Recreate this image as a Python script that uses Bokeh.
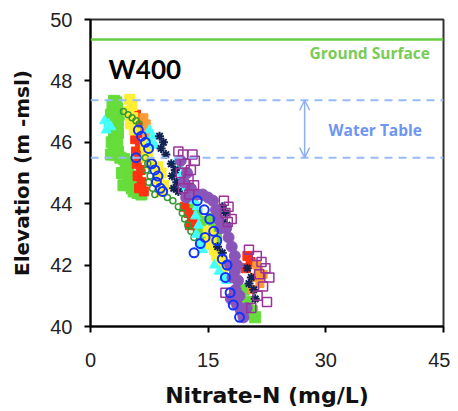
from bokeh.plotting import figure
from bokeh.models import Span, Label, Arrow, OpenHead, FixedTicker, Range1d
from bokeh.embed import file_html
from bokeh.resources import INLINE

# ---------------- data ----------------
x_ticks = [0, 15, 30, 45]
y_ticks = [40, 42, 44, 46, 48, 50]
ground_surface = 49.35
water_table_top = 47.37
water_table_bottom = 45.5

green_x = [3.0, 3.3, 2.8, 3.4, 3.0, 3.6, 3.1, 3.5, 3.0, 3.4, 3.1, 3.5, 3.0, 3.3, 3.1, 3.4, 3.0, 3.5, 3.2, 3.8,
           4.3, 4.6, 4.5, 4.8, 4.7, 5.0, 4.8, 5.1, 5.0, 5.3, 5.5, 6.0, 6.5, 2.6, 2.5, 2.7, 2.6, 4.0, 4.2,
           13.0, 13.5, 13.3, 14.0, 13.8, 14.3, 15.5, 15.8, 16.0, 15.6,
           19.5, 20.0, 20.6, 21.0, 20.3]
green_y = [47.35, 47.3, 47.2, 47.1, 47.0, 46.9, 46.8, 46.7, 46.6, 46.5, 46.4, 46.3, 46.2, 46.1, 46.0, 45.9, 45.8, 45.7, 45.6, 45.5,
           45.45, 45.35, 45.2, 45.1, 45.0, 44.9, 44.8, 44.7, 44.6, 44.5, 44.4, 44.35, 44.3, 46.9, 46.5, 46.0, 45.6, 45.0, 44.6,
           43.9, 43.7, 43.5, 43.4, 43.2, 43.0, 43.5, 43.2, 42.9, 42.7,
           41.2, 40.8, 40.5, 40.3, 40.4]

red_x = [5.8, 6.2, 5.6, 6.0, 5.7, 6.3, 5.8, 6.2, 5.9, 6.4, 6.0, 6.5, 6.2, 6.8, 12.0, 12.5, 13.0, 12.7, 20.0, 20.4, 19.8]
red_y = [46.9, 46.7, 46.5, 46.3, 46.1, 45.9, 45.7, 45.5, 45.3, 45.1, 44.9, 44.7, 44.5, 44.4, 43.9, 43.7, 43.5, 43.3, 42.3, 42.1, 41.9]

orange_x = [6.8, 7.1, 6.9, 7.3, 21.2, 21.4, 21.0, 21.6, 22.0, 20.6]
orange_y = [46.8, 46.6, 46.4, 46.2, 42.0, 41.8, 41.6, 41.4, 41.7, 41.2]

yellow_x = [5.0, 5.3, 4.9, 5.4, 5.1, 5.6, 7.0, 7.3, 7.1, 7.6, 8.6, 9.0, 8.7, 9.3, 9.0,
            15.0, 15.4, 15.1, 15.8, 16.1, 16.5, 16.8]
yellow_y = [47.4, 47.2, 47.0, 46.8, 46.6, 46.4, 45.9, 45.7, 45.5, 45.3, 45.2, 45.0, 44.8, 44.6, 44.4,
            43.1, 42.9, 42.7, 42.5, 42.3, 42.1, 41.9]

dkgreen_x = [4.2, 4.8, 5.3, 5.8, 6.2, 7.0, 7.3, 7.1, 7.6, 7.4, 7.9, 8.2, 9.8, 10.5, 11.2, 11.7, 12.0, 12.4, 12.8, 13.2]
dkgreen_y = [47.0, 46.9, 46.8, 46.7, 46.6, 45.5, 45.3, 45.1, 44.9, 44.7, 44.5, 44.3, 44.2, 44.1, 43.9, 43.7, 43.5, 43.3, 43.1, 42.9]

cyan_x = [1.8, 2.3, 2.0, 2.6, 7.5, 7.9, 7.6, 8.2, 11.0, 11.4, 11.1, 11.6, 11.3, 11.8,
          13.2, 13.6, 13.4, 13.8, 13.5, 14.0, 14.3, 15.8, 16.4, 17.0, 17.3]
cyan_y = [46.7, 46.6, 46.4, 46.5, 46.4, 46.2, 46.0, 45.9, 45.4, 45.2, 45.0, 44.8, 44.6, 44.5,
          44.1, 43.9, 43.6, 43.3, 43.0, 42.7, 42.5, 42.0, 41.8, 41.6, 41.5]

blue_x = [6.1, 6.5, 7.0, 7.4, 5.8, 7.8, 8.2, 8.6, 8.4, 8.9, 9.2, 13.6, 14.5, 15.2, 15.7, 16.1, 14.0, 13.2, 14.6,
          17.4, 16.8, 17.2, 17.8, 18.2, 19.0]
blue_y = [46.4, 46.2, 46.0, 45.8, 45.5, 45.3, 45.1, 44.9, 44.7, 44.5, 44.4, 44.1, 43.8, 43.5, 43.1, 42.8, 42.7, 42.4, 42.9,
          42.0, 42.2, 41.6, 41.1, 40.7, 40.3]

navy_x = [8.8, 9.3, 9.0, 9.6, 10.3, 10.8, 10.4, 11.0, 10.6, 11.2, 16.8, 17.2, 16.9, 17.4, 16.2, 16.8,
          20.0, 20.5, 20.2, 20.8, 21.0]
navy_y = [46.2, 46.0, 45.8, 45.6, 45.3, 45.1, 44.9, 44.7, 44.5, 44.4, 43.9, 43.7, 43.4, 43.3, 42.6, 42.4,
          41.9, 41.6, 41.4, 41.2, 40.9]

violet_x = [11.5, 12.3, 11.9, 12.8, 12.2,
            13.6, 14.3, 15.0, 15.6, 16.0, 16.3, 16.6, 17.3, 17.6, 18.0, 18.4, 18.7, 18.4, 18.8, 18.5, 19.0,
            18.7, 19.2, 19.5, 19.9, 17.8, 18.1, 17.9]
violet_y = [45.4, 45.0, 44.7, 44.5, 44.2,
            44.3, 44.3, 44.2, 44.1, 43.8, 43.5, 43.2, 43.2, 42.9, 42.6, 42.3, 42.0, 41.8, 41.5, 41.2, 41.0,
            40.7, 40.5, 40.3, 40.6, 42.0, 41.6, 40.9]

purple_x = [11.2, 11.8, 13.0, 13.3, 12.0, 12.8, 11.5, 12.5, 13.2, 11.8, 12.6, 17.0, 17.6, 17.2, 18.0, 17.5,
            20.2, 21.2, 21.8, 22.3, 21.5, 22.8, 22.0, 21.3, 22.5, 17.2, 20.5]
purple_y = [45.7, 45.6, 45.6, 45.4, 45.3, 45.1, 45.0, 44.8, 44.6, 44.5, 44.3, 44.1, 43.9, 43.7, 43.5, 43.4,
            42.5, 42.3, 42.1, 41.9, 41.7, 41.6, 41.3, 41.0, 40.8, 41.1, 40.6]

# ---------------- figure ----------------
p = figure(width=450, height=410, output_backend="svg", toolbar_location=None,
           x_range=Range1d(0, 45), y_range=Range1d(40, 50),
           min_border_left=90, min_border_right=7, min_border_top=19, min_border_bottom=84)
p.grid.visible = False
p.outline_line_color = "#333333"
p.outline_line_width = 2
p.background_fill_color = "white"

for ax in (p.xaxis[0], p.yaxis[0]):
    ax.axis_line_width = 2
    ax.axis_line_color = "black"
    ax.major_tick_line_width = 2
    ax.major_tick_out = 6
    ax.major_tick_in = 0
    ax.minor_tick_out = 0
    ax.minor_tick_in = 0
    ax.major_label_text_font = "Liberation Sans"
    ax.major_label_text_font_size = "20px"
    ax.major_label_text_color = "#222222"
    ax.axis_label_text_font = "DejaVu Sans"
    ax.axis_label_text_font_style = "bold"
    ax.axis_label_text_color = "#111111"

p.xaxis.axis_label_text_font_size = "22px"
p.yaxis.axis_label_text_font_size = "20px"
p.xaxis.ticker = FixedTicker(ticks=x_ticks)
p.yaxis.ticker = FixedTicker(ticks=y_ticks)
p.xaxis.axis_label = "Nitrate-N (mg/L)"
p.yaxis.axis_label = "Elevation (m -msl)"
p.xaxis.major_label_standoff = 20
p.yaxis.major_label_standoff = 12
p.xaxis.axis_label_standoff = 13
p.yaxis.axis_label_standoff = 13

# reference lines
p.add_layout(Span(location=ground_surface, dimension="width", line_color="#66cc44", line_width=2.5))
for wt in (water_table_top, water_table_bottom):
    p.add_layout(Span(location=wt, dimension="width", line_color="#99bbf5", line_width=2, line_dash="8 6"))

arrow_col = "#8fb0f0"
p.add_layout(Arrow(start=OpenHead(size=10, line_color=arrow_col, line_width=1.5),
                   end=OpenHead(size=10, line_color=arrow_col, line_width=1.5),
                   x_start=27.3, y_start=water_table_bottom, x_end=27.3, y_end=water_table_top,
                   line_color=arrow_col, line_width=1.5))

# data
p.scatter(green_x, green_y, marker="square", size=11, fill_color="#66dd3a", line_color="#66dd3a")
p.scatter(red_x, red_y, marker="square", size=9, fill_color="#ff3311", line_color="#ff3311")
p.scatter(orange_x, orange_y, marker="square", size=8, fill_color="#ff9933", line_color="#ff9933")
p.scatter(yellow_x, yellow_y, marker="square", size=10, fill_color="#ffee33", line_color="#ffee33")
p.scatter(dkgreen_x, dkgreen_y, marker="circle", size=6, fill_color=None, line_color="#339933", line_width=1.5)
p.scatter(cyan_x, cyan_y, marker="triangle", size=10, fill_color="#44ffff", line_color="#44ffff")
p.scatter(navy_x, navy_y, marker="asterisk", size=9, line_color="#112255", line_width=2)
p.scatter(violet_x, violet_y, marker="circle", size=11, fill_color="#8a55b8", line_color="#8a55b8")
p.scatter(purple_x, purple_y, marker="square", size=9, fill_color=None, line_color="#993399", line_width=1.5)
p.scatter(blue_x, blue_y, marker="circle", size=9, fill_color=None, line_color="#1133ff", line_width=2)

# labels
p.add_layout(Label(x=2.3, y=48.4, text="W400", text_font="Lato", text_font_style="bold",
                   text_font_size="26px", text_color="black", text_baseline="middle"))
p.add_layout(Label(x=35.6, y=48.9, text="Ground Surface", text_font="Open Sans", text_font_style="bold",
                   text_font_size="15.5px", text_color="#77cc55", text_align="center", text_baseline="middle"))
p.add_layout(Label(x=36.3, y=46.4, text="Water Table", text_font="Open Sans", text_font_style="bold",
                   text_font_size="15.5px", text_color="#6e95f0", text_align="center", text_baseline="middle"))

open("out.html", "w").write(file_html(p, INLINE))
